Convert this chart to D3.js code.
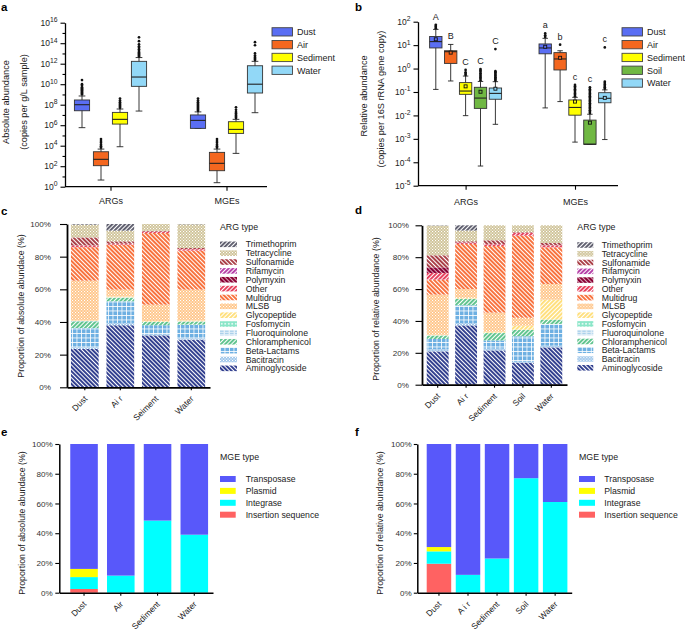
<!DOCTYPE html>
<html>
<head>
<meta charset="utf-8">
<script src="https://cdn.jsdelivr.net/npm/d3@7/dist/d3.min.js"></script>
<style>
  body { margin: 0; background: #fff; }
  svg { display: block; }
</style>
</head>
<body>
<svg id="fig" width="685" height="633"></svg>
<script>
"use strict";

// ---------- data ----------
const groups = ["ARGs", "MGEs"];
const envsAbs = ["Dust", "Air", "Sediment", "Water"];
const envsRel = ["Dust", "Air", "Sediment", "Soil", "Water"];

// panel a, log10 copies per g/L sample: [min, q1, median, q3, max]
const absARGs = [[5.76, 7.41, 8.0, 8.46, 8.85], [0.65, 2.05, 2.67, 3.41, 3.67], [3.9, 6.11, 6.57, 7.25, 7.58], [7.38, 9.79, 10.7, 12.23, 12.6]];
const absMGEs = [[5.69, 5.69, 6.47, 7.0, 7.3], [0.39, 1.56, 2.28, 3.35, 3.67], [3.25, 5.2, 5.59, 6.34, 6.57], [7.22, 9.14, 10.0, 11.8, 12.23]];
const absARGsOut = [
  [9.0, 9.1, 9.2, 9.3, 9.4, 9.5, 9.6, 9.7, 9.85, 10.0, 10.4],
  [3.8, 3.95, 4.1, 4.3, 4.45, 4.65],
  [7.7, 7.8, 7.9, 8.0, 8.1, 8.25, 8.4, 8.6],
  [12.7, 12.8, 12.9, 13.0, 13.1, 13.25, 13.4, 13.55, 13.7, 13.9, 14.2, 14.57]
];
const absMGEsOut = [
  [7.4, 7.5, 7.6, 7.7, 7.8, 7.9, 8.0, 8.1, 8.25, 8.4, 8.6],
  [3.8, 3.95, 4.1, 4.3, 4.45, 4.65],
  [6.7, 6.8, 6.9, 7.0, 7.15, 7.3, 7.5, 7.74],
  [12.35, 12.45, 12.55, 12.65, 12.8, 13.0, 13.8, 14.1]
];

// panel b, log10 copies per 16S rRNA gene copy: [min, q1, median, q3, max, mean]
const relARGs = [[-0.89, 0.88, 1.15, 1.37, 1.67, 1.25], [-0.53, 0.22, 0.72, 0.76, 1.03, 0.68], [-2.01, -1.10, -0.96, -0.60, -0.32, -0.76], [-4.16, -1.70, -1.26, -0.80, -0.55, -0.99], [-2.38, -1.31, -1.06, -0.83, -0.56, -0.86]];
const relMGEs = [[-1.68, 0.63, 0.88, 1.05, 1.29, 0.93], [-1.41, -0.06, 0.41, 0.68, 0.76, 0.46], [-3.14, -1.99, -1.66, -1.34, -1.23, -1.41], [-3.23, -3.23, -3.23, -2.2, -1.95, -2.31], [-3.03, -1.46, -1.27, -1.03, -0.91, -1.25]];
const relARGsOut = [
  [1.72, 1.77, 1.82, 1.87],
  [],
  [-0.28, -0.22, -0.16, -0.06],
  [-0.5, -0.44, -0.38, -0.32, -0.26, -0.2, -0.14, -0.08, -0.02],
  [-0.52, -0.47, -0.42, -0.37, -0.32, -0.27, -0.22, -0.16, -0.11, 0.83]
];
const relMGEsOut = [
  [1.35, 1.42, 1.5],
  [1.02],
  [-1.18, -1.12, -1.06, -1.0, -0.94, -0.88, -0.82, -0.76, -0.7],
  [-1.9, -1.84, -1.78, -1.72, -1.66, -1.6, -1.54, -1.48, -1.42, -1.36, -1.3, -1.24, -1.18, -1.12, -1.06, -1.0, -0.94, -0.88, -0.8],
  [-0.86, -0.8, -0.74, -0.68, -0.62, -0.56, 0.9]
];
const relARGsLetters = ["A", "B", "C", "C", "C"];
const relMGEsLetters = ["a", "b", "c", "c", "c"];

// panels c, d: share of each ARG type (%), bottom to top
const argTypes = ["Aminoglycoside", "Bacitracin", "Beta-Lactams", "Chloramphenicol", "Fluoroquinolone", "Fosfomycin", "Glycopeptide", "MLSB", "Multidrug", "Other", "Polymyxin", "Rifamycin", "Sulfonamide", "Tetracycline", "Trimethoprim"];
const argAbsLabels = ["Dust", "Ai r", "Seiment", "Water"];
const argAbsDust = [23.5, 1.0, 11.8, 4.1, 0.3, 0, 0.2, 24.4, 20.5, 1.0, 0, 0, 5.0, 7.8, 0.4];
const argAbsAir = [38.0, 1.4, 13.3, 2.1, 0.3, 0, 0.5, 4.2, 27.5, 0.6, 0, 0, 1.5, 6.5, 4.1];
const argAbsSediment = [31.8, 0.5, 5.7, 2.0, 0.2, 0, 0.4, 10.0, 43.9, 0.8, 0, 0, 0.5, 4.2, 0];
const argAbsWater = [29.2, 0.8, 8.4, 1.8, 0.2, 0, 0.5, 18.9, 23.9, 0.9, 0, 0, 0.7, 14.5, 0.2];
const argRelLabels = ["Dust", "Ai r", "Sediment", "Soil", "Water"];
const argRelDust = [20.9, 1.5, 6.3, 2.1, 0.2, 0, 0.3, 25.2, 9.4, 4.2, 3.5, 0, 7.6, 18.6, 0.2];
const argRelAir = [37.2, 1.5, 11.1, 4.0, 0.2, 0, 0.5, 5.5, 28.3, 0.8, 0, 0, 0.9, 6.7, 3.3];
const argRelSediment = [21.5, 1.1, 5.2, 4.6, 0.2, 0, 0.6, 12.0, 41.8, 1.1, 0, 0, 2.5, 9.4, 0];
const argRelSoil = [13.8, 0.6, 16.0, 4.0, 0.1, 0, 2.5, 5.0, 51.5, 1.8, 0, 0, 0.4, 4.3, 0];
const argRelWater = [23.4, 1.1, 13.6, 2.7, 0.1, 0, 12.4, 9.9, 23.0, 1.2, 0, 0, 1.5, 11.1, 0];

// panels e, f: share of each MGE type (%), bottom to top
const mgeTypes = ["Insertion sequence", "Integrase", "Plasmid", "Transposase"];
const mgeAbsLabels = ["Dust", "Air", "Sediment", "Water"];
const mgeAbsDust = [2.5, 8.0, 5.5, 84.0];
const mgeAbsAir = [0, 11.5, 0, 88.5];
const mgeAbsSediment = [0, 48.5, 0, 51.5];
const mgeAbsWater = [0, 39.0, 0, 61.0];
const mgeRelLabels = ["Dust", "A i r", "Sediment", "Soil", "Water"];
const mgeRelDust = [19.5, 8.3, 2.9, 69.3];
const mgeRelAir = [0, 12.0, 0, 88.0];
const mgeRelSediment = [0, 23.0, 0, 77.0];
const mgeRelSoil = [0, 77.0, 0, 23.0];
const mgeRelWater = [0, 61.0, 0, 39.0];

// ---------- styles ----------
const FONT = '"Liberation Sans", Arial, Helvetica, sans-serif';
const envColor = { Dust: "#5a6ef3", Air: "#f4671f", Sediment: "#ffff00", Soil: "#70b843", Water: "#92d8f7" };
const mgeColor = { "Insertion sequence": "#ff6262", Integrase: "#00ffff", Plasmid: "#ffff00", Transposase: "#5858fa" };
const argStyle = {
  Aminoglycoside: { kind: "stripe", color: "#2c3a8c", angle: -45 },
  Bacitracin: { kind: "checker", color: "#9ec6ea" },
  "Beta-Lactams": { kind: "grid", color: "#6eb0e2" },
  Chloramphenicol: { kind: "stripe", color: "#5cc38c", angle: 45 },
  Fluoroquinolone: { kind: "dash", color: "#9cc9e8" },
  Fosfomycin: { kind: "ring", color: "#8ae6c8" },
  Glycopeptide: { kind: "stripe", color: "#ffdf7a", angle: 45 },
  MLSB: { kind: "checker", color: "#ffc588" },
  Multidrug: { kind: "stripe", color: "#f86e38", angle: -45 },
  Other: { kind: "stripe", color: "#e63c5a", angle: 45 },
  Polymyxin: { kind: "stripe", color: "#8a0034", angle: -45, frac: 0.78 },
  Rifamycin: { kind: "stripe", color: "#b43ca6", angle: 45 },
  Sulfonamide: { kind: "stripe", color: "#a83a42", angle: -45 },
  Tetracycline: { kind: "checker", color: "#cfc398" },
  Trimethoprim: { kind: "stripe", color: "#5c5c6c", angle: 45 }
};

const svg = d3.select("#fig").attr("font-family", FONT);
svg.append("rect").attr("width", 685).attr("height", 633).attr("fill", "#fff");
const defs = svg.append("defs");

function makePattern(id, st) {
  const p = defs.append("pattern").attr("id", id).attr("patternUnits", "userSpaceOnUse");
  if (st.kind === "stripe") {
    const s = 3;
    p.attr("width", s).attr("height", s).attr("patternTransform", `rotate(${st.angle})`);
    p.append("rect").attr("width", s).attr("height", s).attr("fill", "#fff");
    p.append("rect").attr("width", s * (st.frac || 0.64)).attr("height", s).attr("fill", st.color);
  } else if (st.kind === "checker") {
    p.attr("width", 3).attr("height", 3);
    p.append("rect").attr("width", 3).attr("height", 3).attr("fill", st.color);
    p.append("rect").attr("width", 1.1).attr("height", 1.1).attr("fill", "#fff");
    p.append("rect").attr("x", 1.5).attr("y", 1.5).attr("width", 1.1).attr("height", 1.1).attr("fill", "#fff");
  } else if (st.kind === "grid") {
    p.attr("width", 4.5).attr("height", 4.5);
    p.append("rect").attr("width", 4.5).attr("height", 4.5).attr("fill", st.color);
    p.append("rect").attr("width", 4.5).attr("height", 0.8).attr("fill", "#fff");
    p.append("rect").attr("width", 0.8).attr("height", 4.5).attr("fill", "#fff");
  } else if (st.kind === "dash") {
    p.attr("width", 5).attr("height", 2.5);
    p.append("rect").attr("width", 5).attr("height", 2.5).attr("fill", "#e4f0f8");
    p.append("rect").attr("y", 0.6).attr("width", 3.6).attr("height", 1.1).attr("fill", st.color);
  } else {
    p.attr("width", 3.5).attr("height", 3.5);
    p.append("rect").attr("width", 3.5).attr("height", 3.5).attr("fill", st.color);
    p.append("circle").attr("cx", 1.75).attr("cy", 1.75).attr("r", 0.9).attr("fill", "#fff");
  }
}
const patId = t => "pat-" + t.replace(/[^A-Za-z]/g, "");
argTypes.forEach(t => makePattern(patId(t), argStyle[t]));

function panelLetter(x, y, t) {
  svg.append("text").attr("x", x).attr("y", y).attr("font-size", 11.5).attr("font-weight", "bold").text(t);
}
function vlabel(x, y, t, size) {
  svg.append("text").attr("transform", `translate(${x},${y}) rotate(-90)`)
    .attr("text-anchor", "middle").attr("font-size", size).attr("fill", "#222").text(t);
}

// ---------- box plots ----------
function boxPanel(cfg) {
  const g = svg.append("g");
  const y = d3.scaleLog().domain([Math.pow(10, cfg.e0), Math.pow(10, cfg.e1)]).range(cfg.yr);
  const py = v => y(Math.pow(10, v));
  const xg = d3.scalePoint().domain(groups).range(cfg.gx);
  const xe = d3.scaleBand().domain(cfg.envs).range([-cfg.half, cfg.half]).paddingInner(cfg.pad).paddingOuter(cfg.pad / 2);
  const bw = xe.bandwidth();

  groups.forEach((grp, gi) => {
    cfg.envs.forEach((env, ei) => {
      const s = cfg.stats[gi][ei];
      const outs = cfg.outs[gi][ei];
      const cx = xg(grp) + xe(env) + bw / 2;
      const b = g.append("g").attr("stroke", "#222").attr("stroke-width", 0.9);
      b.append("line").attr("x1", cx).attr("x2", cx).attr("y1", py(s[0])).attr("y2", py(s[4]));
      [s[0], s[4]].forEach(v => b.append("line")
        .attr("x1", cx - bw * 0.22).attr("x2", cx + bw * 0.22).attr("y1", py(v)).attr("y2", py(v)));
      b.append("rect").attr("x", cx - bw / 2).attr("width", bw)
        .attr("y", py(s[3])).attr("height", py(s[1]) - py(s[3]))
        .attr("fill", envColor[env]).attr("stroke", "#333");
      b.append("line").attr("x1", cx - bw / 2).attr("x2", cx + bw / 2)
        .attr("y1", py(s[2])).attr("y2", py(s[2])).attr("stroke-width", 1.1);
      b.selectAll("circle").data(outs).join("circle")
        .attr("cx", cx).attr("cy", py).attr("r", 1.35).attr("fill", "#111").attr("stroke", "none");
      if (s.length > 5) {
        b.append("rect").attr("x", cx - 1.5).attr("y", py(s[5]) - 1.5).attr("width", 3).attr("height", 3)
          .attr("fill", envColor[env]).attr("stroke", "#111").attr("stroke-width", 0.9);
      }
      if (cfg.letters) {
        const top = d3.min([py(s[4])].concat(outs.map(py)));
        g.append("text").attr("x", cx).attr("y", top - 5).attr("text-anchor", "middle")
          .attr("font-size", 9).attr("fill", "#222").text(cfg.letters[gi][ei]);
      }
    });
  });

  // y axis
  const exps = d3.range(cfg.e0, cfg.e1 + 1);
  const ax = g.append("g").attr("transform", `translate(${cfg.ax},0)`)
    .call(d3.axisLeft(y).tickValues(exps.map(e => Math.pow(10, e))).tickFormat("")
      .tickSize(4.5).tickSizeOuter(0).tickPadding(3))
    .attr("font-family", FONT).attr("font-size", 8.5);
  ax.select(".domain").attr("stroke-width", 1.3);
  ax.selectAll(".tick line").attr("stroke-width", 1.1);
  ax.selectAll(".tick").each(function (d) {
    const e = Math.round(Math.log10(d));
    const t = d3.select(this);
    if (cfg.every2 && e % 2 !== 0) { t.select("line").attr("x2", -2.5); return; }
    const txt = t.select("text").text("10").attr("fill", "#222");
    txt.append("tspan").attr("dy", "-0.55em").attr("font-size", 6.8).text(e);
  });

  // x axis
  const bx = g.append("g").attr("transform", `translate(0,${cfg.yr[0]})`)
    .call(d3.axisBottom(xg).tickSize(4).tickSizeOuter(0).tickPadding(cfg.xpad))
    .attr("font-family", FONT).attr("font-size", 9);
  bx.select(".domain").attr("d", `M${cfg.ax},0H${cfg.xEnd}`).attr("stroke-width", 1.3);
  bx.selectAll(".tick line").attr("stroke-width", 1.1);
  bx.selectAll(".tick text").attr("fill", "#222");

  // legend
  const lg = g.append("g").attr("transform", `translate(${cfg.lx},${cfg.ly})`);
  cfg.envs.forEach((env, i) => {
    lg.append("rect").attr("x", 0).attr("y", i * 12.8).attr("width", 20.5).attr("height", 8.3)
      .attr("fill", envColor[env]).attr("stroke", "#444").attr("stroke-width", 0.9);
    lg.append("text").attr("x", 25).attr("y", i * 12.8 + 7.6).attr("font-size", 9).attr("fill", "#222").text(env);
  });
}

boxPanel({
  envs: envsAbs, stats: [absARGs, absMGEs], outs: [absARGsOut, absMGEsOut],
  e0: 0, e1: 16, every2: true, yr: [186.7, 22.7], ax: 65, xEnd: 267,
  gx: [110.5, 226.5], half: 38, pad: 0.2, xpad: 7,
  lx: 272, ly: 27.7
});
boxPanel({
  envs: envsRel, stats: [relARGs, relMGEs], outs: [relARGsOut, relMGEsOut],
  letters: [relARGsLetters, relMGEsLetters],
  e0: -5, e1: 2, every2: false, yr: [185.7, 21.7], ax: 418, xEnd: 618,
  gx: [465.6, 575], half: 37.25, pad: 0.17, xpad: 8.5,
  lx: 622, ly: 27.7
});

// ---------- stacked bars ----------
function barPanel(cfg) {
  const g = svg.append("g");
  const x = d3.scaleBand().domain(cfg.labels).range(cfg.xr)
    .paddingInner(cfg.pi).paddingOuter(cfg.po).align(cfg.al);
  const y = d3.scaleLinear().domain([0, 100]).range(cfg.yr);
  const table = cfg.labels.map((lab, i) => {
    const row = { lab };
    cfg.keys.forEach((k, j) => { row[k] = cfg.rows[i][j]; });
    return row;
  });
  const series = d3.stack().keys(cfg.keys)(table);
  g.selectAll("g.series").data(series).join("g").attr("class", "series")
    .attr("fill", s => cfg.fill(s.key))
    .selectAll("rect").data(s => s.filter(d => d[1] - d[0] > 0)).join("rect")
    .attr("x", d => x(d.data.lab)).attr("width", x.bandwidth())
    .attr("y", d => y(d[1])).attr("height", d => y(d[0]) - y(d[1]));

  const ay = g.append("g").attr("transform", `translate(${cfg.xr[0]},0)`)
    .call(d3.axisLeft(y).tickValues([0, 20, 40, 60, 80, 100]).tickFormat(d => d + "%")
      .tickSize(cfg.tick).tickSizeOuter(0).tickPadding(cfg.tpad))
    .attr("font-family", FONT).attr("font-size", 8.1);
  ay.select(".domain").attr("stroke-width", cfg.sw);
  ay.selectAll(".tick line").attr("stroke-width", 1.1);
  ay.selectAll(".tick text").attr("fill", "#333");

  const axb = g.append("g").attr("transform", `translate(0,${cfg.yr[0]})`)
    .call(d3.axisBottom(x).tickSize(3).tickSizeOuter(0).tickFormat(""));
  axb.select(".domain").attr("stroke-width", cfg.sw);
  axb.selectAll(".tick line").attr("stroke-width", 1.1);

  g.selectAll("text.xl").data(cfg.labels).join("text").attr("class", "xl")
    .attr("transform", d => `translate(${x(d) + x.bandwidth() / 2 + 3},${cfg.yr[0] + 12}) rotate(-45)`)
    .attr("text-anchor", "end").attr("font-size", 8.5).attr("fill", "#222").text(d => d);

  // legend
  const lg = g.append("g").attr("transform", `translate(${cfg.lx},0)`);
  lg.append("text").attr("x", 0).attr("y", cfg.ty).attr("font-size", 8.8).attr("fill", "#222").text(cfg.title);
  cfg.keys.slice().reverse().forEach((k, i) => {
    const cy = cfg.ly + i * cfg.lstep;
    lg.append("rect").attr("x", 0).attr("y", cy - cfg.sh / 2).attr("width", cfg.swW).attr("height", cfg.sh)
      .attr("fill", cfg.fill(k));
    lg.append("text").attr("x", cfg.tx).attr("y", cy + 3.1).attr("font-size", 8.7).attr("fill", "#222").text(k);
  });
}

barPanel({
  labels: argAbsLabels, keys: argTypes,
  rows: [argAbsDust, argAbsAir, argAbsSediment, argAbsWater],
  fill: k => `url(#${patId(k)})`,
  xr: [67, 210], yr: [387.3, 224], pi: 0.22, po: 0.124, al: 0.45, tick: 7, tpad: 9, sw: 1.8,
  lx: 220, title: "ARG type", ty: 230, ly: 244.3, lstep: 8.86, swW: 17, sh: 5.6, tx: 25.7
});
barPanel({
  labels: argRelLabels, keys: argTypes,
  rows: [argRelDust, argRelAir, argRelSediment, argRelSoil, argRelWater],
  fill: k => `url(#${patId(k)})`,
  xr: [422, 567], yr: [384.7, 225.3], pi: 0.23, po: 0.167, al: 0.5, tick: 6.5, tpad: 6.5, sw: 1.8,
  lx: 577.3, title: "ARG type", ty: 230, ly: 245, lstep: 8.77, swW: 16, sh: 5.6, tx: 24.4
});
barPanel({
  labels: mgeAbsLabels, keys: mgeTypes,
  rows: [mgeAbsDust, mgeAbsAir, mgeAbsSediment, mgeAbsWater],
  fill: k => mgeColor[k],
  xr: [59.3, 213], yr: [592.7, 444], pi: 0.25, po: 0.216, al: 0.69, tick: 4, tpad: 2.5, sw: 1.5,
  lx: 220, title: "MGE type", ty: 460, ly: 479, lstep: 11.9, swW: 15.7, sh: 6, tx: 25.7
});
barPanel({
  labels: mgeRelLabels, keys: mgeTypes,
  rows: [mgeRelDust, mgeRelAir, mgeRelSediment, mgeRelSoil, mgeRelWater],
  fill: k => mgeColor[k],
  xr: [417.3, 571.7], yr: [592.7, 444], pi: 0.157, po: 0.236, al: 0.686, tick: 3.5, tpad: 2, sw: 1.5,
  lx: 579, title: "MGE type", ty: 460, ly: 479, lstep: 11.9, swW: 16, sh: 6, tx: 25.3
});

// ---------- axis titles and panel letters ----------
vlabel(9.3, 102, "Absolute abundance", 9.2);
vlabel(26.7, 102, "(copies per g/L sample)", 9.2);
vlabel(366.7, 96, "Relative abundance", 9.2);
vlabel(384, 99, "(copies per 16S rRNA gene copy)", 9.2);
vlabel(24, 306, "Proportion of absolute abundace (%)", 8.8);
vlabel(379, 309, "Proportion of relative abundance (%)", 8.8);
vlabel(25, 523, "Proportion of absolute abundace (%)", 8.8);
vlabel(383.3, 523, "Proportion of relative abundance (%)", 8.8);

panelLetter(1, 11, "a");
panelLetter(355, 11, "b");
panelLetter(1, 215, "c");
panelLetter(355, 214, "d");
panelLetter(1, 436, "e");
panelLetter(355, 436, "f");
</script>
</body>
</html>
